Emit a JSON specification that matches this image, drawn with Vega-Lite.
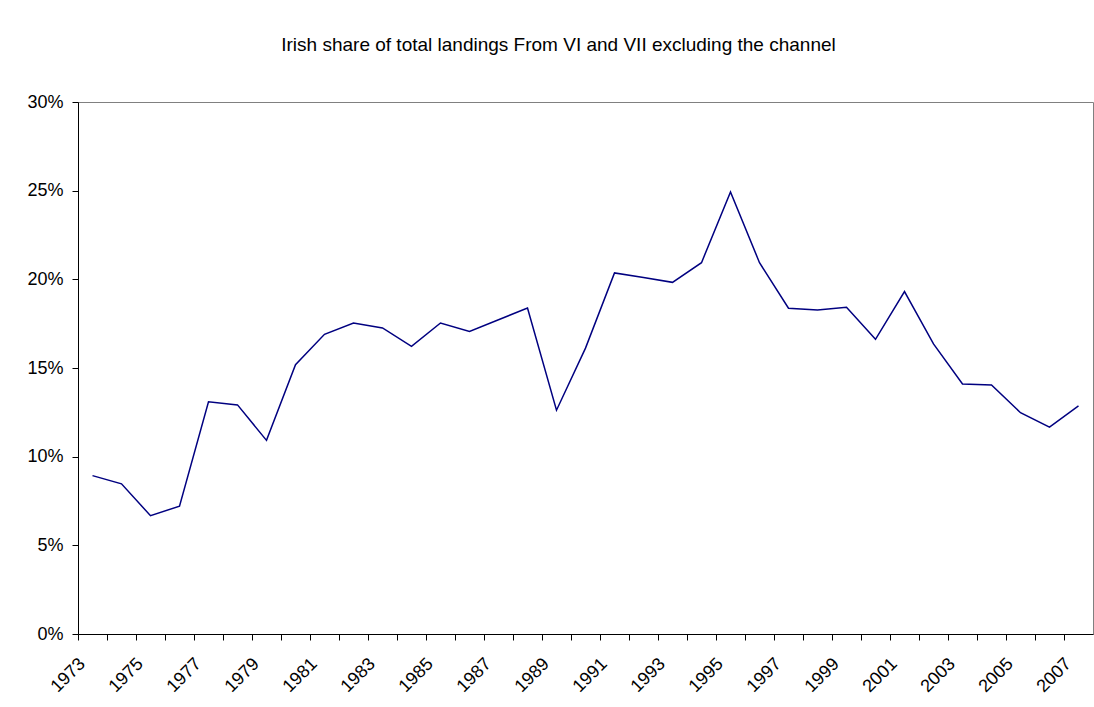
{
  "$schema": "https://vega.github.io/schema/vega-lite/v6.json",
  "width": 1015,
  "height": 532,
  "autosize": "none",
  "padding": {"left": 78, "top": 102, "right": 1, "bottom": 73},
  "background": "white",
  "title": {
    "text": "Irish share of total landings From VI and VII excluding the channel",
    "font": "Liberation Sans",
    "fontSize": 19,
    "fontWeight": "normal",
    "color": "black",
    "anchor": "middle",
    "frame": "group",
    "dx": -27,
    "offset": 38
  },
  "data": {
    "values": [
      {"year": "1973", "share": 0.0893},
      {"year": "1974", "share": 0.0847},
      {"year": "1975", "share": 0.0667},
      {"year": "1976", "share": 0.0721},
      {"year": "1977", "share": 0.1309},
      {"year": "1978", "share": 0.1292},
      {"year": "1979", "share": 0.1092},
      {"year": "1980", "share": 0.1519},
      {"year": "1981", "share": 0.1690},
      {"year": "1982", "share": 0.1754},
      {"year": "1983", "share": 0.1726},
      {"year": "1984", "share": 0.1622},
      {"year": "1985", "share": 0.1754},
      {"year": "1986", "share": 0.1706},
      {"year": "1987", "share": 0.1772},
      {"year": "1988", "share": 0.1838},
      {"year": "1989", "share": 0.1262},
      {"year": "1990", "share": 0.1612},
      {"year": "1991", "share": 0.2036},
      {"year": "1992", "share": 0.2010},
      {"year": "1993", "share": 0.1983},
      {"year": "1994", "share": 0.2094},
      {"year": "1995", "share": 0.2493},
      {"year": "1996", "share": 0.2094},
      {"year": "1997", "share": 0.1837},
      {"year": "1998", "share": 0.1827},
      {"year": "1999", "share": 0.1842},
      {"year": "2000", "share": 0.1662},
      {"year": "2001", "share": 0.1931},
      {"year": "2002", "share": 0.1636},
      {"year": "2003", "share": 0.1410},
      {"year": "2004", "share": 0.1404},
      {"year": "2005", "share": 0.1248},
      {"year": "2006", "share": 0.1166},
      {"year": "2007", "share": 0.1286}
    ]
  },
  "mark": {"type": "line", "color": "#000080", "strokeWidth": 1.5},
  "encoding": {
    "x": {
      "field": "year",
      "type": "ordinal",
      "bandPosition": 0.5,
      "scale": {"type": "band", "paddingInner": 0, "paddingOuter": 0},
      "axis": {
        "title": null,
        "bandPosition": 0,
        "labelAngle": -45,
        "labelAlign": "right",
        "labelBaseline": "middle",
        "labelOffset": -10,
        "labelPadding": 21,
        "tickSize": 6,
        "labelOverlap": false,
        "labelExpr": "(+datum.value - 1973) % 2 == 0 ? datum.label : ''"
      }
    },
    "y": {
      "field": "share",
      "type": "quantitative",
      "scale": {"domain": [0, 0.3], "nice": false},
      "axis": {
        "title": null,
        "format": ".0%",
        "values": [0, 0.05, 0.1, 0.15, 0.2, 0.25, 0.3],
        "tickSize": 6,
        "labelPadding": 9
      }
    }
  },
  "config": {
    "view": {"stroke": "#808080", "strokeWidth": 1},
    "axis": {
      "grid": false,
      "labelFont": "Liberation Sans",
      "labelFontSize": 18,
      "labelColor": "black",
      "domainColor": "black",
      "domainWidth": 1,
      "tickColor": "black",
      "tickWidth": 1
    }
  }
}
